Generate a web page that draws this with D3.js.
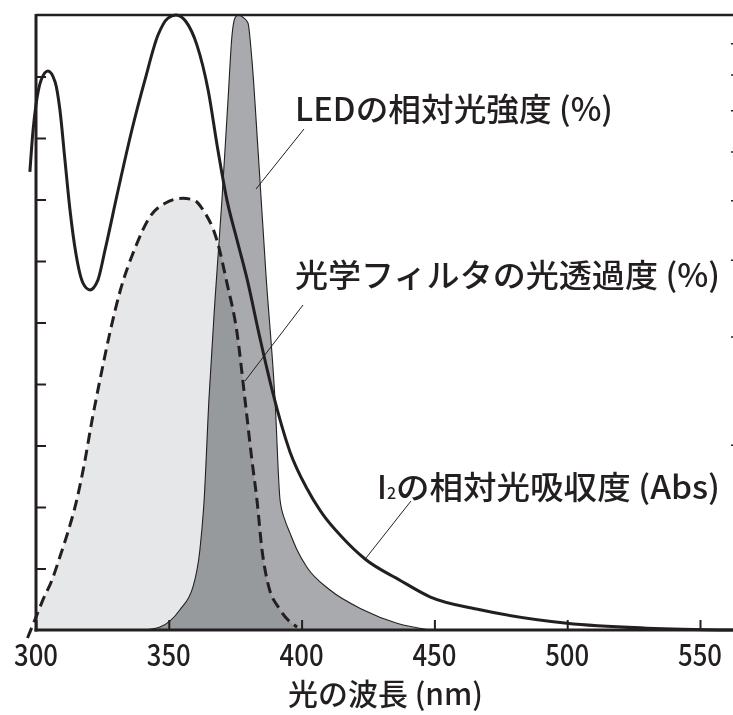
<!DOCTYPE html>
<html><head><meta charset="utf-8">
<script src="https://cdn.jsdelivr.net/npm/d3@7"></script>
<style>
html,body{margin:0;padding:0;background:#fff;}
svg{display:block;}
text{font-family:"Noto Sans CJK JP","Noto Sans",sans-serif;fill:#231f20;font-weight:500;}
</style></head>
<body>
<svg id="chart" width="733" height="715"></svg>
<script>
// ---- data ----
const xTickValues = [300, 350, 400, 450, 500, 550];
const leftTickValues = [10, 20, 30, 40, 50, 60, 70, 80, 90];
const rightTickValues = [2, 3, 4, 5, 6, 7, 8, 9];

// I2 relative absorbance (left scale, 0-100)
const i2Nm  = [297.7, 298.9, 300, 301.9, 304.5, 307.2, 309.0, 310.9, 312.8, 315.1, 317.7, 320.3, 323.3, 326.0, 330.9, 336.1, 341.0, 345.9, 349.7, 352.7, 356.5, 360.6, 364.8, 368.5, 371.9, 375.7, 379.4, 384.3, 389.2, 395.6, 402.0, 408.0, 415.0, 424.0, 437.0, 448.3, 467.2, 499.9, 530.0, 562.4];
const i2Abs = [74.5, 81.3, 85.4, 89.4, 90.9, 89.1, 84.6, 76.4, 68.3, 61.0, 56.4, 55.3, 56.9, 61.8, 71.5, 81.3, 89.4, 96.7, 99.5, 100, 98.9, 95.1, 87.8, 78.0, 69.9, 63.4, 57.2, 47.5, 38.5, 29.0, 23.0, 18.8, 15.2, 11.5, 8.1, 5.4, 3.3, 1.1, 0.3, 0];

// LED relative intensity (%)
const ledNm  = [340.3, 346.7, 354.2, 359.1, 361.7, 363.3, 365.1, 367.4, 370.0, 372.3, 373.8, 374.9, 376.1, 378.3, 379.8, 381.3, 383.6, 386.6, 390.0, 391.9, 393.7, 395.6, 398.3, 402.0, 410.7, 423.1, 435.9, 448.3];
const ledPct = [0, 0.5, 3.3, 7.0, 13.0, 21.1, 37.4, 53.7, 69.9, 86.2, 96.7, 99.5, 100, 99.5, 98.7, 92.7, 78.0, 57.7, 37.4, 21.1, 17.9, 15.8, 13.0, 10.2, 6.5, 3.3, 1.1, 0];

// optical filter transmittance (%)
const filterNm  = [296.8, 300, 302.6, 306.0, 309.0, 312.0, 315.1, 318.1, 321.1, 324.1, 327.9, 331.6, 337.3, 342.9, 348.6, 355.3, 359.9, 362.9, 368.1, 371.9, 375.7, 378.7, 381.3, 383.2, 385.1, 387.3, 391.9, 398.3];
const filterPct = [-1.3, 2.1, 4.9, 8.1, 11.9, 15.9, 20.7, 26.8, 34.1, 40.7, 48.5, 55.0, 62.1, 67.2, 69.4, 70.2, 69.8, 68.3, 63.4, 56.4, 48.3, 37.4, 27.6, 21.1, 13.0, 7.6, 3.3, 0.5];

const labels = {
  led: "LEDの相対光強度 (%)",
  filter: "光学フィルタの光透過度 (%)",
  abs: "の相対光吸収度 (Abs)",
  xTitle: "光の波長 (nm)"
};

// ---- drawing ----
const ink = "#231f20";
const svg = d3.select("#chart");
const x = d3.scaleLinear().domain([300, 550]).range([36, 700]);
const yL = d3.scaleLinear().domain([0, 100]).range([630, 15]);
const yR = d3.scaleLog().domain([1, 10]).range([630, 15]);

const zip = (a, b) => a.map((v, i) => [v, b[i]]);
const i2 = zip(i2Nm, i2Abs), led = zip(ledNm, ledPct), filt = zip(filterNm, filterPct);

const area = d3.area().x(d => x(d[0])).y0(yL(0)).y1(d => yL(Math.max(0, d[1]))).curve(d3.curveMonotoneX);
const line = d3.line().x(d => x(d[0])).y(d => yL(d[1])).curve(d3.curveMonotoneX);

// filter fill
svg.append("path").datum(filt.filter(d => d[0] >= 300)).attr("d", area).attr("fill", "#e6e7e8");
// LED fill (multiply so overlap darkens)
svg.append("path").datum(led).attr("d", area).attr("fill", "#a8aaad")
  .style("mix-blend-mode", "multiply");
svg.append("path").datum(led).attr("d", line).attr("fill", "none").attr("stroke", ink).attr("stroke-width", 1.1);
// filter dashed line
svg.append("path").datum(filt).attr("d", line).attr("fill", "none").attr("stroke", ink)
  .attr("stroke-width", 3).attr("stroke-dasharray", "11,6");
// I2 line
svg.append("path").datum(i2).attr("d", line).attr("fill", "none").attr("stroke", ink).attr("stroke-width", 3);

// axes
const xAxis = d3.axisTop(x).tickValues(xTickValues).tickSize(10).tickFormat("");
const gx = svg.append("g").attr("transform", "translate(0,630)").call(xAxis);
gx.select(".domain").remove();
gx.selectAll(".tick line").attr("stroke", ink).attr("stroke-width", 2);

const gl = svg.append("g").attr("transform", "translate(36,0)")
  .call(d3.axisRight(yL).tickValues(leftTickValues).tickSize(10).tickFormat(""));
gl.select(".domain").remove();
gl.selectAll(".tick line").attr("stroke", ink).attr("stroke-width", 2);

const gr = svg.append("g").attr("transform", "translate(741,0)")
  .call(d3.axisLeft(yR).tickValues(rightTickValues).tickSize(10).tickFormat(""));
gr.select(".domain").remove();
gr.selectAll(".tick line").attr("stroke", ink).attr("stroke-width", 1.5);

// frame lines
svg.append("line").attr("x1", 36).attr("x2", 733).attr("y1", 15).attr("y2", 15).attr("stroke", ink).attr("stroke-width", 2.5);
svg.append("line").attr("x1", 36).attr("x2", 36).attr("y1", 14).attr("y2", 631.5).attr("stroke", ink).attr("stroke-width", 3);
svg.append("line").attr("x1", 34.5).attr("x2", 733).attr("y1", 630).attr("y2", 630).attr("stroke", ink).attr("stroke-width", 3);

// tick labels
svg.append("g").selectAll("text").data(xTickValues).join("text")
  .attr("x", d => x(d)).attr("y", 666).attr("text-anchor", "middle")
  .attr("font-size", 30).attr("textLength", 44).attr("lengthAdjust", "spacingAndGlyphs")
  .text(d => d);

// x title
svg.append("text").attr("x", 288).attr("y", 705).attr("font-size", 30)
  .attr("textLength", 195).attr("lengthAdjust", "spacingAndGlyphs").text(labels.xTitle);

// series labels
svg.append("text").attr("x", 295).attr("y", 121).attr("font-size", 32)
  .attr("textLength", 318).attr("lengthAdjust", "spacingAndGlyphs").text(labels.led);
svg.append("text").attr("x", 295).attr("y", 287).attr("font-size", 32)
  .attr("textLength", 425).attr("lengthAdjust", "spacingAndGlyphs").text(labels.filter);
svg.append("text").attr("x", 377).attr("y", 499).attr("font-size", 32).text("I");
svg.append("text").attr("x", 387).attr("y", 499).attr("font-size", 16).text("2");
svg.append("text").attr("x", 396).attr("y", 499).attr("font-size", 32)
  .attr("textLength", 324).attr("lengthAdjust", "spacingAndGlyphs").text(labels.abs);

// leader lines
const leaders = [[304, 129, 256, 189], [303, 305, 245, 381], [411, 501, 366, 558]];
svg.append("g").selectAll("line").data(leaders).join("line")
  .attr("x1", d => d[0]).attr("y1", d => d[1]).attr("x2", d => d[2]).attr("y2", d => d[3])
  .attr("stroke", ink).attr("stroke-width", 1);
</script>
</body></html>
